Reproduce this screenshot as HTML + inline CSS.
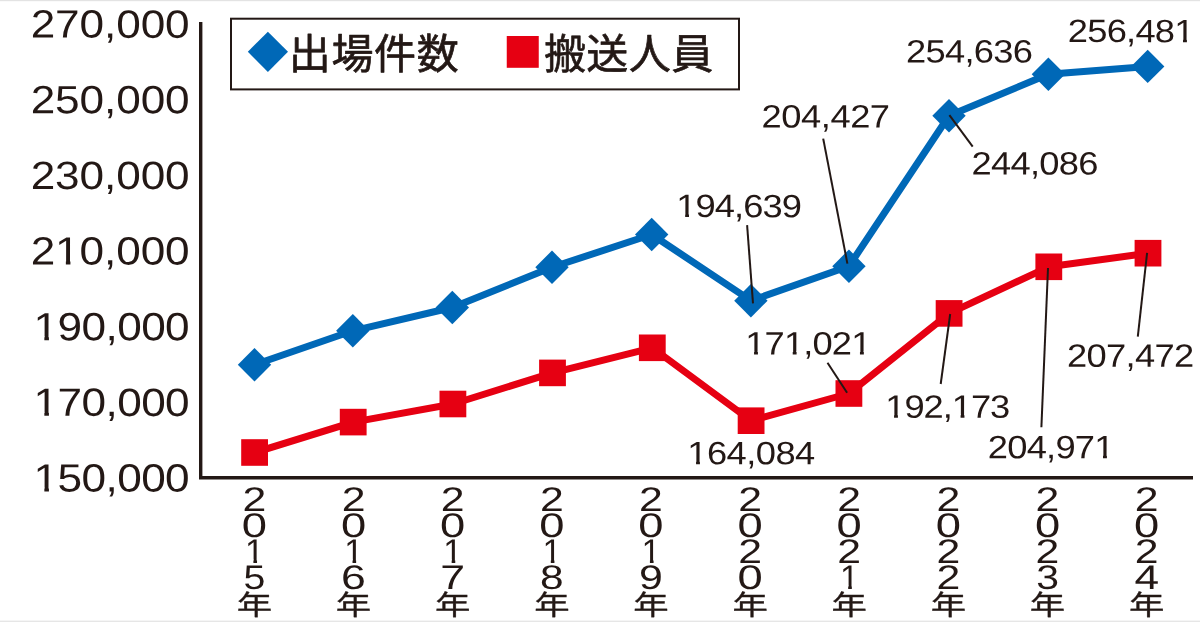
<!DOCTYPE html>
<html lang="ja">
<head>
<meta charset="utf-8">
<title>出場件数・搬送人員の推移</title>
<style>
html,body{margin:0;padding:0;background:#fff;}
body{width:1200px;height:622px;overflow:hidden;font-family:"Liberation Sans",sans-serif;}
svg{display:block;will-change:transform;}
text{font-family:"Liberation Sans",sans-serif;fill:#231815;text-rendering:geometricPrecision;}
.yl{font-size:39.4px;}
.dl{font-size:32.4px;}
.vd{font-size:34.2px;text-anchor:middle;}
.lg{font-family:"Liberation Sans","Noto Sans CJK JP",sans-serif;font-size:42px;}
.nen{font-family:"Liberation Sans","Noto Sans CJK JP",sans-serif;font-size:27.8px;text-anchor:middle;}
</style>
</head>
<body>
<svg width="1200" height="622" viewBox="0 0 1200 622" role="img" aria-label="出場件数と搬送人員の推移 2015年〜2024年">
<defs><clipPath id="c1"><path d="M-6.9,-30 H2.45 V6 H-1.2 V-3.5 H-6.9 Z"/></clipPath></defs>
<rect x="0" y="0" width="1200" height="622" fill="#ffffff"/>
<rect x="0" y="0" width="1200" height="1.2" fill="#e3e3e3"/>
<rect x="0" y="620.6" width="1200" height="1.4" fill="#e6e6e6"/>
<path d="M200.7,22 V477.75 H1193" fill="none" stroke="#231815" stroke-width="3.4" stroke-linejoin="miter"/>
<g id="y-axis-labels">
<text class="yl" letter-spacing="-0.072" transform="translate(30.64,37.60) scale(1.12,1) rotate(0.03)">270,000</text>
<text class="yl" letter-spacing="-0.072" transform="translate(30.64,113.25) scale(1.12,1) rotate(0.03)">250,000</text>
<text class="yl" letter-spacing="-0.072" transform="translate(30.64,188.90) scale(1.12,1) rotate(0.03)">230,000</text>
<clipPath id="k210000"><path clip-rule="evenodd" d="M-5,-39.4 H146.9 V11.8 H-5 Z M23.81,-3.94 H31.45 V1.5 H23.81 Z M35.53,-3.94 H43.12 V1.5 H35.53 Z"/></clipPath><text class="yl" clip-path="url(#k210000)" letter-spacing="-0.072" transform="translate(30.64,264.55) scale(1.12,1) rotate(0.03)">210,000</text>
<clipPath id="k190000"><path clip-rule="evenodd" d="M-5,-39.4 H143.8 V11.8 H-5 Z M1.97,-3.94 H9.61 V1.5 H1.97 Z M13.69,-3.94 H21.28 V1.5 H13.69 Z"/></clipPath><text class="yl" clip-path="url(#k190000)" letter-spacing="-0.511" transform="translate(33.59,340.20) scale(1.12,1) rotate(0.03)">190,000</text>
<clipPath id="k170000"><path clip-rule="evenodd" d="M-5,-39.4 H143.8 V11.8 H-5 Z M1.97,-3.94 H9.61 V1.5 H1.97 Z M13.69,-3.94 H21.28 V1.5 H13.69 Z"/></clipPath><text class="yl" clip-path="url(#k170000)" letter-spacing="-0.511" transform="translate(33.59,415.85) scale(1.12,1) rotate(0.03)">170,000</text>
<clipPath id="k150000"><path clip-rule="evenodd" d="M-5,-39.4 H143.8 V11.8 H-5 Z M1.97,-3.94 H9.61 V1.5 H1.97 Z M13.69,-3.94 H21.28 V1.5 H13.69 Z"/></clipPath><text class="yl" clip-path="url(#k150000)" letter-spacing="-0.511" transform="translate(33.59,491.50) scale(1.12,1) rotate(0.03)">150,000</text>
</g>
<rect x="231" y="18.7" width="508" height="70.7" fill="#fff" stroke="#231815" stroke-width="2"/>
<path d="M267.9,31.7 L288,51.8 L267.9,71.9 L247.8,51.8 Z" fill="#0068b7"/>
<rect x="506.75" y="36" width="32" height="31.8" fill="#e60012"/>
<g id="legend-text" fill="#231815" stroke="#231815" stroke-width="0.7" stroke-linejoin="round" aria-label="出場件数 搬送人員">
<title>出場件数 / 搬送人員</title>
<text class="lg" x="288.79" y="68.5" textLength="170" lengthAdjust="spacing">出場件数</text>
<text class="lg" x="543.9" y="68.5" textLength="169.4" lengthAdjust="spacing">搬送人員</text>
</g>
<polyline points="254.65,452.55 353.15,422.1 452.9,404.0 552.5,372.85 652.25,347.8 751.1,420.7 848.9,393.5 949.1,313.4 1048.8,266.8 1148.0,253.25" fill="none" stroke="#e60012" stroke-width="7" stroke-linejoin="round"/>
<rect x="241.2" y="439.2" width="26.8" height="26.6" fill="#e60012"/>
<rect x="339.8" y="408.8" width="26.8" height="26.6" fill="#e60012"/>
<rect x="439.5" y="390.7" width="26.8" height="26.6" fill="#e60012"/>
<rect x="539.1" y="359.6" width="26.8" height="26.6" fill="#e60012"/>
<rect x="638.9" y="334.5" width="26.8" height="26.6" fill="#e60012"/>
<rect x="737.7" y="407.4" width="26.8" height="26.6" fill="#e60012"/>
<rect x="835.5" y="380.2" width="26.8" height="26.6" fill="#e60012"/>
<rect x="935.7" y="300.1" width="26.8" height="26.6" fill="#e60012"/>
<rect x="1035.4" y="253.5" width="26.8" height="26.6" fill="#e60012"/>
<rect x="1134.6" y="239.9" width="26.8" height="26.6" fill="#e60012"/>
<polyline points="254.5,364.8 352.8,330.8 452.3,307.5 552.0,267.3 651.7,234.5 750.9,300.7 848.95,266.2 949.0,115.8 1048.4,74.3 1147.7,66.4" fill="none" stroke="#0068b7" stroke-width="7" stroke-linejoin="round"/>
<path d="M254.5,348.1 L271.2,364.8 L254.5,381.5 L237.8,364.8 Z" fill="#0068b7"/>
<path d="M352.8,314.1 L369.5,330.8 L352.8,347.5 L336.1,330.8 Z" fill="#0068b7"/>
<path d="M452.3,290.8 L469.0,307.5 L452.3,324.2 L435.6,307.5 Z" fill="#0068b7"/>
<path d="M552.0,250.60000000000002 L568.7,267.3 L552.0,284.0 L535.3,267.3 Z" fill="#0068b7"/>
<path d="M651.7,217.8 L668.4000000000001,234.5 L651.7,251.2 L635.0,234.5 Z" fill="#0068b7"/>
<path d="M750.9,284.0 L767.6,300.7 L750.9,317.4 L734.1999999999999,300.7 Z" fill="#0068b7"/>
<path d="M848.95,249.5 L865.6500000000001,266.2 L848.95,282.9 L832.25,266.2 Z" fill="#0068b7"/>
<path d="M949.0,99.1 L965.7,115.8 L949.0,132.5 L932.3,115.8 Z" fill="#0068b7"/>
<path d="M1048.4,57.599999999999994 L1065.1000000000001,74.3 L1048.4,91.0 L1031.7,74.3 Z" fill="#0068b7"/>
<path d="M1147.7,49.7 L1164.4,66.4 L1147.7,83.10000000000001 L1131.0,66.4 Z" fill="#0068b7"/>
<g stroke="#231815" stroke-width="2" fill="none">
<line x1="747.1" y1="225.2" x2="753.0" y2="303.3"/>
<line x1="823.2" y1="138.6" x2="847.4" y2="263.6"/>
<line x1="949.4" y1="115.2" x2="972.7" y2="146.6"/>
<line x1="827.5" y1="362.7" x2="847.1" y2="392.8"/>
<line x1="950.2" y1="314" x2="940.7" y2="384"/>
<line x1="1048" y1="268" x2="1041.4" y2="427.3"/>
<line x1="1147.1" y1="252.9" x2="1137.8" y2="336.6"/>
</g>
<g id="data-labels">
<clipPath id="k194639"><path clip-rule="evenodd" d="M-5,-32.4 H116.3 V9.7 H-5 Z M1.62,-3.42 H7.85 V1.5 H1.62 Z M11.31,-3.42 H17.50 V1.5 H11.31 Z"/></clipPath><text class="dl" clip-path="url(#k194639)" letter-spacing="-0.837" transform="translate(676.37,217.10) scale(1.12,1) rotate(0.03)">194,639</text>
<text class="dl" letter-spacing="-0.401" transform="translate(761.60,127.40) scale(1.12,1) rotate(0.03)">204,427</text>
<text class="dl" letter-spacing="-0.604" transform="translate(905.89,62.50) scale(1.12,1) rotate(0.03)">254,636</text>
<clipPath id="k256481"><path clip-rule="evenodd" d="M-5,-32.4 H117.4 V9.7 H-5 Z M96.63,-3.42 H102.86 V1.5 H96.63 Z M106.32,-3.42 H112.51 V1.5 H106.32 Z"/></clipPath><text class="dl" clip-path="url(#k256481)" letter-spacing="-0.681" transform="translate(1067.83,42.10) scale(1.12,1) rotate(0.03)">256,481</text>
<text class="dl" letter-spacing="-0.653" transform="translate(971.60,174.40) scale(1.12,1) rotate(0.03)">244,086</text>
<clipPath id="k171021"><path clip-rule="evenodd" d="M-5,-32.4 H116.8 V9.7 H-5 Z M1.62,-3.42 H7.85 V1.5 H1.62 Z M11.31,-3.42 H17.50 V1.5 H11.31 Z M36.15,-3.42 H42.38 V1.5 H36.15 Z M45.84,-3.42 H52.02 V1.5 H45.84 Z M96.18,-3.42 H102.41 V1.5 H96.18 Z M105.87,-3.42 H112.06 V1.5 H105.87 Z"/></clipPath><text class="dl" clip-path="url(#k171021)" letter-spacing="-0.756" transform="translate(745.26,354.40) scale(1.12,1) rotate(0.03)">171,021</text>
<clipPath id="k164084"><path clip-rule="evenodd" d="M-5,-32.4 H118.8 V9.7 H-5 Z M1.62,-3.42 H7.85 V1.5 H1.62 Z M11.31,-3.42 H17.50 V1.5 H11.31 Z"/></clipPath><text class="dl" clip-path="url(#k164084)" letter-spacing="-0.469" transform="translate(687.26,464.20) scale(1.12,1) rotate(0.03)">164,084</text>
<clipPath id="k192173"><path clip-rule="evenodd" d="M-5,-32.4 H115.7 V9.7 H-5 Z M1.62,-3.42 H7.85 V1.5 H1.62 Z M11.31,-3.42 H17.50 V1.5 H11.31 Z M61.02,-3.42 H67.25 V1.5 H61.02 Z M70.71,-3.42 H76.90 V1.5 H70.71 Z"/></clipPath><text class="dl" clip-path="url(#k192173)" letter-spacing="-0.915" transform="translate(885.26,417.70) scale(1.12,1) rotate(0.03)">192,173</text>
<clipPath id="k204971"><path clip-rule="evenodd" d="M-5,-32.4 H117.3 V9.7 H-5 Z M96.60,-3.42 H102.82 V1.5 H96.60 Z M106.29,-3.42 H112.47 V1.5 H106.29 Z"/></clipPath><text class="dl" clip-path="url(#k204971)" letter-spacing="-0.687" transform="translate(987.87,458.30) scale(1.12,1) rotate(0.03)">204,971</text>
<text class="dl" letter-spacing="-0.585" transform="translate(1066.94,366.75) scale(1.12,1) rotate(0.03)">207,472</text>
</g>
<g id="x-axis-labels">
<g aria-label="2015年"><text class="vd" transform="translate(254.45,511) scale(1.251,1)">2</text><text class="vd" transform="translate(254.45,536.9) scale(1.327,1)">0</text><text class="vd" clip-path="url(#c1)" transform="translate(254.60,562.7) scale(1.000,1)">1</text><text class="vd" transform="translate(254.49,588.5) scale(1.147,1)">5</text><text class="nen" stroke="#231815" stroke-width="0.3" transform="translate(254.46,614.67) scale(1.274,1)">年</text></g>
<g aria-label="2016年"><text class="vd" transform="translate(353.58,511) scale(1.251,1)">2</text><text class="vd" transform="translate(353.58,536.9) scale(1.327,1)">0</text><text class="vd" clip-path="url(#c1)" transform="translate(353.73,562.7) scale(1.000,1)">1</text><text class="vd" transform="translate(353.43,588.5) scale(1.305,1)">6</text><text class="nen" stroke="#231815" stroke-width="0.3" transform="translate(353.59,614.67) scale(1.274,1)">年</text></g>
<g aria-label="2017年"><text class="vd" transform="translate(452.71,511) scale(1.251,1)">2</text><text class="vd" transform="translate(452.71,536.9) scale(1.327,1)">0</text><text class="vd" clip-path="url(#c1)" transform="translate(452.86,562.7) scale(1.000,1)">1</text><text class="vd" transform="translate(452.69,588.5) scale(1.306,1)">7</text><text class="nen" stroke="#231815" stroke-width="0.3" transform="translate(452.72,614.67) scale(1.274,1)">年</text></g>
<g aria-label="2018年"><text class="vd" transform="translate(551.84,511) scale(1.251,1)">2</text><text class="vd" transform="translate(551.84,536.9) scale(1.327,1)">0</text><text class="vd" clip-path="url(#c1)" transform="translate(551.99,562.7) scale(1.000,1)">1</text><text class="vd" transform="translate(551.84,588.5) scale(1.240,1)">8</text><text class="nen" stroke="#231815" stroke-width="0.3" transform="translate(551.85,614.67) scale(1.274,1)">年</text></g>
<g aria-label="2019年"><text class="vd" transform="translate(650.97,511) scale(1.251,1)">2</text><text class="vd" transform="translate(650.97,536.9) scale(1.327,1)">0</text><text class="vd" clip-path="url(#c1)" transform="translate(651.12,562.7) scale(1.000,1)">1</text><text class="vd" transform="translate(650.98,588.5) scale(1.253,1)">9</text><text class="nen" stroke="#231815" stroke-width="0.3" transform="translate(650.98,614.67) scale(1.274,1)">年</text></g>
<g aria-label="2020年"><text class="vd" transform="translate(750.10,511) scale(1.251,1)">2</text><text class="vd" transform="translate(750.10,536.9) scale(1.327,1)">0</text><text class="vd" transform="translate(750.10,562.7) scale(1.251,1)">2</text><text class="vd" transform="translate(750.10,588.5) scale(1.327,1)">0</text><text class="nen" stroke="#231815" stroke-width="0.3" transform="translate(750.11,614.67) scale(1.274,1)">年</text></g>
<g aria-label="2021年"><text class="vd" transform="translate(849.23,511) scale(1.251,1)">2</text><text class="vd" transform="translate(849.23,536.9) scale(1.327,1)">0</text><text class="vd" transform="translate(849.23,562.7) scale(1.251,1)">2</text><text class="vd" clip-path="url(#c1)" transform="translate(849.38,588.5) scale(1.000,1)">1</text><text class="nen" stroke="#231815" stroke-width="0.3" transform="translate(849.24,614.67) scale(1.274,1)">年</text></g>
<g aria-label="2022年"><text class="vd" transform="translate(948.36,511) scale(1.251,1)">2</text><text class="vd" transform="translate(948.36,536.9) scale(1.327,1)">0</text><text class="vd" transform="translate(948.36,562.7) scale(1.251,1)">2</text><text class="vd" transform="translate(948.36,588.5) scale(1.251,1)">2</text><text class="nen" stroke="#231815" stroke-width="0.3" transform="translate(948.37,614.67) scale(1.274,1)">年</text></g>
<g aria-label="2023年"><text class="vd" transform="translate(1047.49,511) scale(1.251,1)">2</text><text class="vd" transform="translate(1047.49,536.9) scale(1.327,1)">0</text><text class="vd" transform="translate(1047.49,562.7) scale(1.251,1)">2</text><text class="vd" transform="translate(1047.61,588.5) scale(1.196,1)">3</text><text class="nen" stroke="#231815" stroke-width="0.3" transform="translate(1047.50,614.67) scale(1.274,1)">年</text></g>
<g aria-label="2024年"><text class="vd" transform="translate(1146.62,511) scale(1.251,1)">2</text><text class="vd" transform="translate(1146.62,536.9) scale(1.327,1)">0</text><text class="vd" transform="translate(1146.62,562.7) scale(1.251,1)">2</text><text class="vd" transform="translate(1146.76,588.5) scale(1.294,1)">4</text><text class="nen" stroke="#231815" stroke-width="0.3" transform="translate(1146.63,614.67) scale(1.274,1)">年</text></g>
</g>
</svg>
</body>
</html>
